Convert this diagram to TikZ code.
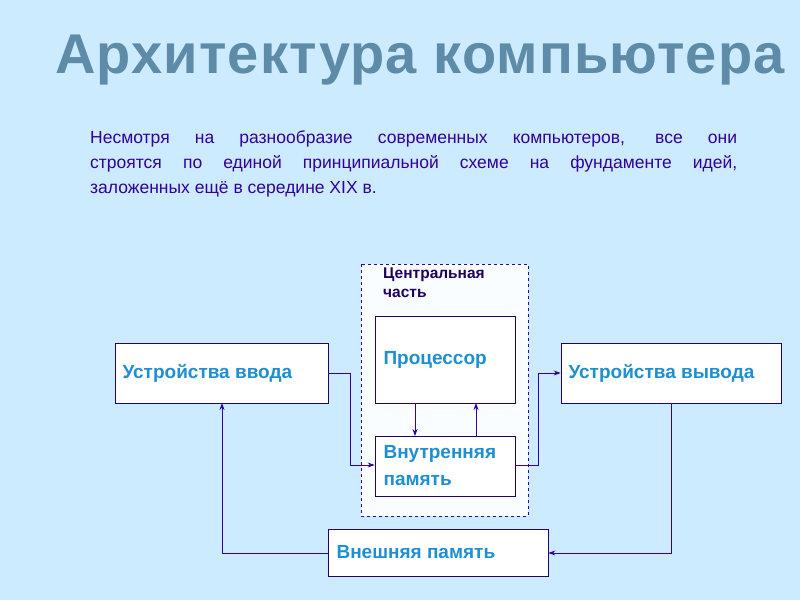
\documentclass[tikz,border=0pt]{standalone}
\usepackage{fontspec}
\setmainfont{Liberation Sans}
\usetikzlibrary{arrows.meta}
\definecolor{bg}{HTML}{CCEBFF}
\definecolor{ink}{HTML}{330099}
\definecolor{blu}{HTML}{1E8FD0}
\definecolor{ttl}{HTML}{5D8BA8}
\tikzset{
 box/.style={draw=ink!70!black,fill=white,line width=0.7pt,inner sep=0pt},
 btxt/.style={text=blu,font=\fontsize{19}{27}\selectfont\bfseries,anchor=west,align=left},
 con/.style={draw=ink,line width=0.8pt,-{Stealth[length=7pt,width=5pt]}}
}
\begin{document}
\begin{tikzpicture}[x=1pt,y=-1pt]
\fill[bg] (0,0) rectangle (800,600);
\useasboundingbox (0,0) rectangle (800,600);
\node[text=ttl,font=\fontsize{56}{62}\selectfont\bfseries,inner sep=0pt] (title) at (420,60) {\addfontfeature{LetterSpace=2}Архитектура компьютера};
\node[text=ink,anchor=north west,text width=647pt,align=justify,inner sep=0pt,font=\fontsize{17.5}{25}\selectfont] (para) at (90,130) {Несмотря на разнообразие современных компьютеров, все они\linebreak строятся по единой принципиальной схеме на фундаменте идей,\linebreak заложенных ещё в середине XIX в.};
\draw[dashed,draw=ink,fill=white!70!bg!40!white,line width=0.7pt] (361,264) rectangle (528,516);
\node[anchor=north west,text=ink!60!black,font=\fontsize{15.5}{19}\selectfont\bfseries,align=left,inner sep=0pt] (cen) at (383,268) {Центральная\\часть};
\node[box,minimum width=140pt,minimum height=87pt] (proc) at (445,359.5) {};
\node[btxt] at (380,359.5) {Процессор};
\node[box,minimum width=140pt,minimum height=60pt] (mem) at (445,466) {};
\node[btxt] at (380,466) {Внутренняя\\память};
\node[box,minimum width=213pt,minimum height=60pt] (in) at (221.5,373) {};
\node[btxt] at (119,373) {Устройства ввода};
\node[box,minimum width=220pt,minimum height=60pt] (out) at (671,373) {};
\node[btxt] at (565,373) {Устройства вывода};
\node[box,minimum width=220pt,minimum height=47pt] (ext) at (438,552.5) {};
\node[btxt] at (333,552.5) {Внешняя память};
\draw[con] (in.east) -- (350,373) -- (350,465) -- (mem.west|-0,465);
\draw[con] (mem.east|-0,465) -- (538,465) -- (538,373) -- (out.west);
\draw[con] (415,403) -- (415,436);
\draw[con] (476,436) -- (476,403);
\draw[con] (out.south) -- (671,553) -- (ext.east|-0,553);
\draw[con] (ext.west|-0,553) -- (222,553) -- (222,403);
\end{tikzpicture}
\end{document}
